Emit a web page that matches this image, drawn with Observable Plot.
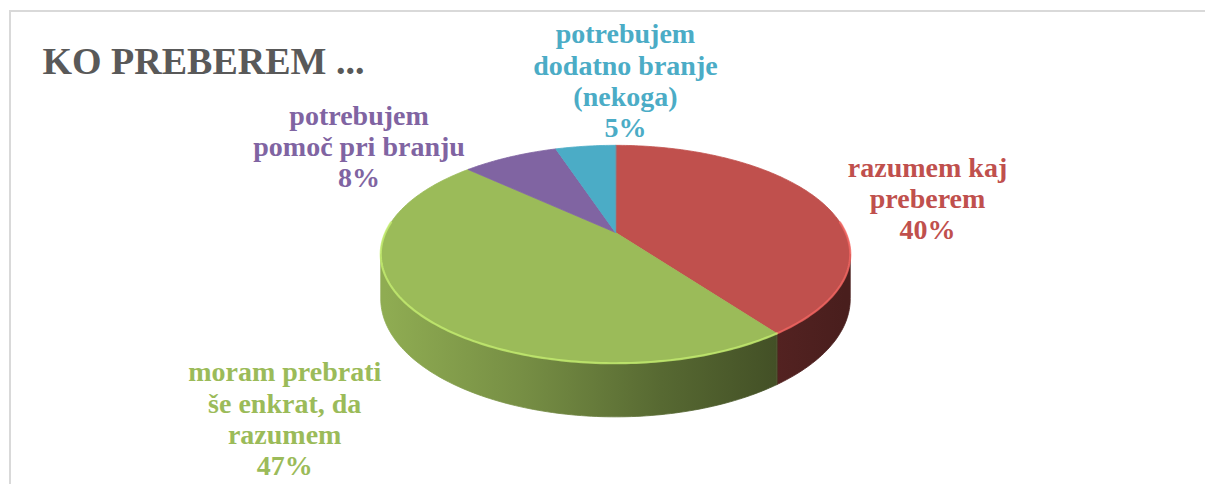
<!DOCTYPE html>
<html><head><meta charset="utf-8">
<script src="https://cdn.jsdelivr.net/npm/d3@7"></script>
<script src="https://cdn.jsdelivr.net/npm/@observablehq/plot@0.6"></script>
<style>
body{margin:0;background:#fff;}
#wrap{position:relative;width:1205px;height:484px;overflow:hidden;}
#border{position:absolute;left:9px;top:10px;width:1400px;height:700px;border-top:2px solid #d9d9d9;border-left:2px solid #d9d9d9;}
#chart{position:absolute;left:0;top:0;}
</style></head><body>
<div id="wrap"><div id="border"></div><div id="chart"></div></div>
<script>
// ---- data ----
const title = "KO PREBEREM ...";
const categories = [
  "razumem kaj\npreberem",
  "moram prebrati\nše enkrat, da\nrazumem",
  "potrebujem\npomoč pri branju",
  "potrebujem\ndodatno branje\n(nekoga)"
];
const percents = [40, 47, 8, 5];

// ---- styles / layout ----
const palette = ["#C0504D", "#9BBB59", "#8064A2", "#4BACC6"];
const FONT = "'Liberation Serif', 'Times New Roman', serif";
const CX = 615, CY = 232, RX = 230, RY = 104.6;   // pie placement (scale ranges)
const K = 0.2;      // perspective strength
const H = 0.41;     // pie thickness in y units
const labelNudge = [[106, -4], [-132, 106], [-151, -11], [40, -66]];

const pie = d3.pie().sort(null).startAngle(0).endAngle(2 * Math.PI)(percents);
function proj(t, z) {
  const u = Math.sin(t), v = -Math.cos(t);
  const s = 1 / (1 - K * v);
  return {x: u * s, y: (v + z) * s};
}
function arcPts(a0, a1, z) {
  const n = Math.max(2, Math.ceil((a1 - a0) / (Math.PI / 180)));
  return d3.range(n + 1).map(j => proj(a0 + (a1 - a0) * j / n, z));
}
const tA = Math.acos(-K), tB = 2 * Math.PI - tA;   // visible side range

const marks = [];
// shadow
marks.push(Plot.line(arcPts(0, 2 * Math.PI, H), {
  x: "x", y: "y", dx: 4, dy: 7, fill: "#000", fillOpacity: 0.28, stroke: "none",
  curve: "linear-closed", ariaLabel: "shadow"
}));
// side walls
pie.forEach((a, i) => {
  const lo = Math.max(a.startAngle, tA), hi = Math.min(a.endAngle, tB);
  if (hi <= lo) return;
  const pts = arcPts(lo, hi, 0).concat(arcPts(lo, hi, H).reverse());
  marks.push(Plot.line(pts, {x: "x", y: "y", fill: `url(#side${i})`, stroke: `url(#side${i})`, strokeWidth: 0.8, curve: "linear-closed"}));
});
// top faces
pie.forEach((a, i) => {
  const pts = [{x: 0, y: 0}].concat(arcPts(a.startAngle, a.endAngle, 0));
  marks.push(Plot.line(pts, {x: "x", y: "y", fill: palette[i], stroke: palette[i], strokeWidth: 0.8, curve: "linear-closed"}));
});
// bevel highlight on front rim
pie.forEach((a, i) => {
  const lo = Math.max(a.startAngle, tA - 0.3), hi = Math.min(a.endAngle, tB + 0.3);
  if (hi <= lo) return;
  marks.push(Plot.line(arcPts(lo, hi, 0), {x: "x", y: "y", stroke: d3.color(palette[i]).brighter(0.7).formatHex(), strokeWidth: 2.2, strokeOpacity: 0.75}));
});
// labels
pie.forEach((a, i) => {
  const mid = (a.startAngle + a.endAngle) / 2;
  const p = proj(mid, 0);
  marks.push(Plot.text([{x: p.x, y: p.y, t: categories[i] + "\n" + percents[i] + "%"}], {
    x: "x", y: "y", text: "t", dx: labelNudge[i][0], dy: labelNudge[i][1],
    lineAnchor: "middle", textAnchor: "middle", lineHeight: 1.12,
    fontSize: 28, fontWeight: "bold", fontFamily: FONT, fill: palette[i]
  }));
});
// title
marks.push(Plot.text([title], {
  text: d => d, frameAnchor: "top-left", dx: 42, dy: 47, lineAnchor: "top", textAnchor: "start",
  fontSize: 38, fontWeight: "bold", fontFamily: FONT, fill: "#595959"
}));

const chart = Plot.plot({
  width: 1205, height: 484, margin: 0,
  style: {background: "transparent", overflow: "visible"},
  x: {domain: [-1, 1], range: [CX - RX, CX + RX], axis: null},
  y: {domain: [-1, 1], range: [CY - RY, CY + RY], axis: null},
  marks
});

// gradients & blur
const svg = d3.select(chart);
const defs = svg.insert("defs", ":first-child");
const stops = [[0, 0.92], [0.3, 0.76], [0.6, 0.56], [0.85, 0.43], [1, 0.38]];
palette.forEach((c, i) => {
  const g = defs.append("linearGradient").attr("id", `side${i}`)
    .attr("gradientUnits", "userSpaceOnUse")
    .attr("x1", CX - RX).attr("x2", CX + RX).attr("y1", 0).attr("y2", 0);
  const base = d3.rgb(c);
  stops.forEach(([o, f]) => {
    g.append("stop").attr("offset", o)
      .attr("stop-color", d3.rgb(base.r * f, base.g * f, base.b * f).formatHex());
  });
});
defs.append("filter").attr("id", "blur").attr("x", "-20%").attr("y", "-20%").attr("width", "140%").attr("height", "140%")
  .append("feGaussianBlur").attr("stdDeviation", 5);
svg.selectAll('g[aria-label="shadow"]').attr("filter", "url(#blur)");

document.getElementById("chart").appendChild(chart);
</script>
</body></html>
